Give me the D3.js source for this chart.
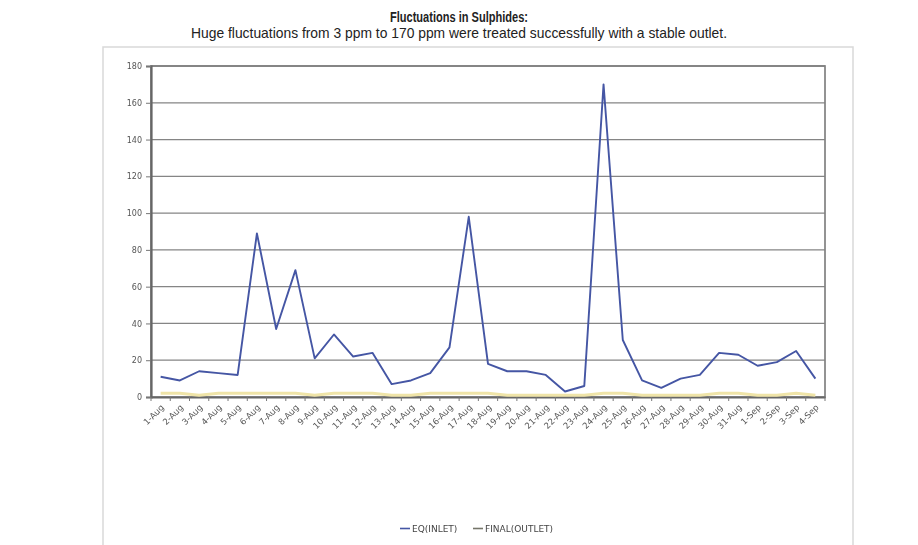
<!DOCTYPE html>
<html>
<head>
<meta charset="utf-8">
<script src="https://cdn.jsdelivr.net/npm/d3@7"></script>
<style>
  html, body { margin: 0; padding: 0; background: #ffffff; }
  svg { display: block; }
</style>
</head>
<body>
<svg id="chart" width="918" height="545"></svg>
<script>
// Daily sulphide readings (ppm), 1 Aug – 4 Sep
const days = ["1-Aug","2-Aug","3-Aug","4-Aug","5-Aug","6-Aug","7-Aug","8-Aug","9-Aug","10-Aug",
  "11-Aug","12-Aug","13-Aug","14-Aug","15-Aug","16-Aug","17-Aug","18-Aug","19-Aug","20-Aug",
  "21-Aug","22-Aug","23-Aug","24-Aug","25-Aug","26-Aug","27-Aug","28-Aug","29-Aug","30-Aug",
  "31-Aug","1-Sep","2-Sep","3-Sep","4-Sep"];
const eqInlet = [11, 9, 14, 13, 12, 89, 37, 69, 21, 34,
  22, 24, 7, 9, 13, 27, 98, 18, 14, 14,
  12, 3, 6, 170, 31, 9, 5, 10, 12, 24,
  23, 17, 19, 25, 10];
const finalOutlet = [2, 2, 1, 2, 2, 2, 2, 2, 1, 2,
  2, 2, 1, 1, 2, 2, 2, 2, 1, 1,
  1, 1, 1, 2, 2, 1, 1, 1, 1, 2,
  2, 1, 1, 2, 1];
const yTicks = [0, 20, 40, 60, 80, 100, 120, 140, 160, 180];
const seriesNames = ["EQ(INLET)", "FINAL(OUTLET)"];
const seriesColors = ["#4556a4", "#efe4a8"];

const svg = d3.select("#chart");
const W = 918;
const headFont = "'Liberation Sans', Arial, sans-serif";

// Heading (condensed look via textLength)
svg.append("text")
  .attr("x", W / 2).attr("y", 22)
  .attr("text-anchor", "middle")
  .attr("textLength", 138).attr("lengthAdjust", "spacingAndGlyphs")
  .style("font-family", headFont)
  .style("font-size", "14px").style("font-weight", "bold").style("fill", "#222")
  .text("Fluctuations in Sulphides:");
svg.append("text")
  .attr("x", W / 2).attr("y", 38)
  .attr("text-anchor", "middle")
  .attr("textLength", 536).attr("lengthAdjust", "spacingAndGlyphs")
  .style("font-family", headFont)
  .style("font-size", "14.5px").style("fill", "#222")
  .text("Huge fluctuations from 3 ppm to 170 ppm were treated successfully with a stable outlet.");

// Soft rendering for the chart body
const defs = svg.append("defs");
defs.append("filter").attr("id", "soft").attr("x", "-5%").attr("y", "-5%").attr("width", "110%").attr("height", "110%")
  .append("feGaussianBlur").attr("stdDeviation", 0.7);

const chart = svg.append("g").attr("filter", "url(#soft)");

// Chart frame
chart.append("rect")
  .attr("x", 103).attr("y", 47).attr("width", 750).attr("height", 510)
  .attr("fill", "#ffffff").attr("stroke", "#d9d9d9").attr("stroke-width", 1.5);

const plot = { left: 151, right: 825, top: 66, bottom: 397 };

const x = d3.scaleBand().domain(days).range([plot.left, plot.right]).padding(0);
const y = d3.scaleLinear().domain([0, 180]).range([plot.bottom, plot.top]);
const cx = d => x(d) + x.bandwidth() / 2;

// Horizontal gridlines
chart.append("g").selectAll("line")
  .data(yTicks.filter(t => t > 0))
  .join("line")
  .attr("x1", plot.left).attr("x2", plot.right)
  .attr("y1", d => y(d)).attr("y2", d => y(d))
  .attr("stroke", "#858585").attr("stroke-width", 1.3);

// Plot border
chart.append("rect")
  .attr("x", plot.left).attr("y", plot.top)
  .attr("width", plot.right - plot.left).attr("height", plot.bottom - plot.top)
  .attr("fill", "none").attr("stroke", "#808080").attr("stroke-width", 1.7);

// Y axis
const yAxis = chart.append("g")
  .attr("transform", `translate(${plot.left},0)`)
  .call(d3.axisLeft(y).tickValues(yTicks).tickSize(5).tickPadding(4));
yAxis.select(".domain").attr("stroke", "#666").attr("stroke-width", 2.2);
yAxis.selectAll(".tick line").attr("stroke", "#777");
yAxis.selectAll(".tick text")
  .style("font-family", "'DejaVu Sans', sans-serif").style("font-size", "8px").style("fill", "#555");

// X axis: labels at category centres, ticks on category boundaries
const xAxis = chart.append("g")
  .attr("transform", `translate(0,${plot.bottom})`)
  .call(d3.axisBottom(x).tickSize(0).tickPadding(0));
xAxis.select(".domain").attr("stroke", "#666").attr("stroke-width", 2.2);
xAxis.selectAll(".tick text")
  .attr("text-anchor", "end")
  .attr("dy", 0)
  .attr("transform", "translate(4,11) rotate(-45)")
  .style("font-family", "'DejaVu Sans', sans-serif").style("font-size", "8.5px").style("fill", "#555");
chart.append("g").selectAll("line")
  .data(days.concat(["__end"]))
  .join("line")
  .attr("x1", (d, i) => i < days.length ? x(d) : plot.right)
  .attr("x2", (d, i) => i < days.length ? x(d) : plot.right)
  .attr("y1", plot.bottom).attr("y2", plot.bottom + 4)
  .attr("stroke", "#777").attr("stroke-width", 1);

// Series lines
const line = d3.line().x((d, i) => cx(days[i])).y(d => y(d));
chart.append("path")
  .datum(finalOutlet)
  .attr("d", line)
  .attr("fill", "none").attr("stroke", seriesColors[1]).attr("stroke-width", 3)
  .attr("stroke-linejoin", "round");
chart.append("path")
  .datum(eqInlet)
  .attr("d", line)
  .attr("fill", "none").attr("stroke", seriesColors[0]).attr("stroke-width", 1.9)
  .attr("stroke-linejoin", "round");

// Legend
const legendX = [400, 473];
const legend = chart.append("g");
seriesNames.forEach((name, i) => {
  const g = legend.append("g").attr("transform", `translate(${legendX[i]},532)`);
  g.append("line").attr("x1", 0).attr("x2", 10).attr("y1", -3.5).attr("y2", -3.5)
    .attr("stroke", i === 0 ? seriesColors[0] : "#75756a").attr("stroke-width", 1.6);
  g.append("text").attr("x", 12).attr("y", 0)
    .style("font-family", "'DejaVu Sans', sans-serif").style("font-size", "9px").style("fill", "#444")
    .text(name);
});
</script>
</body>
</html>
